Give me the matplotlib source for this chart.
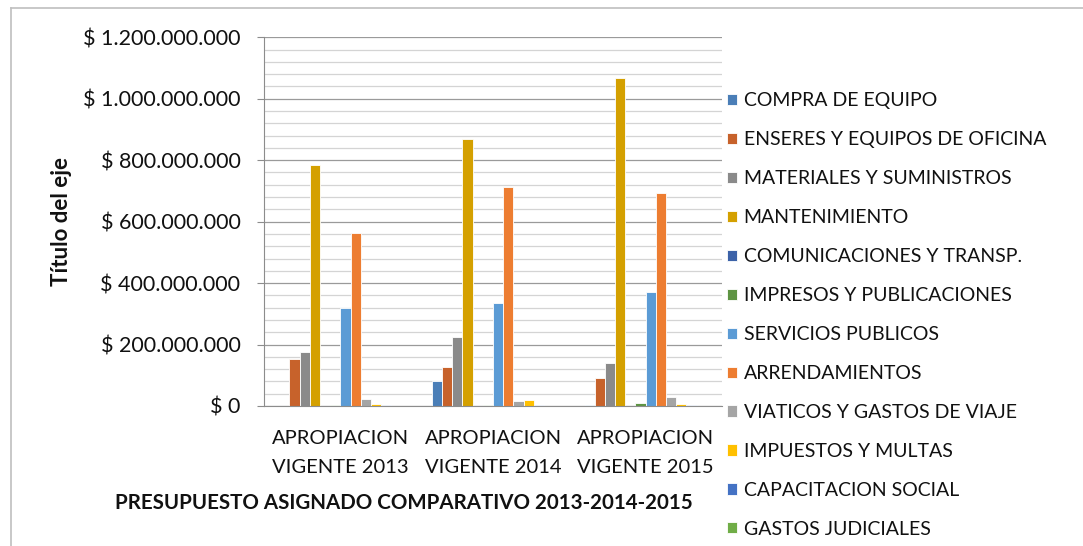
import numpy as np
import matplotlib
matplotlib.use("Agg")
import matplotlib.pyplot as plt
from matplotlib.lines import Line2D
from matplotlib.ticker import MultipleLocator, FuncFormatter

plt.rcParams['font.family'] = ['Lato', 'DejaVu Sans']

categories = ["APROPIACION\nVIGENTE 2013", "APROPIACION\nVIGENTE 2014", "APROPIACION\nVIGENTE 2015"]

series_names = [
    "COMPRA DE EQUIPO",
    "ENSERES Y EQUIPOS DE OFICINA",
    "MATERIALES Y SUMINISTROS",
    "MANTENIMIENTO",
    "COMUNICACIONES Y TRANSP.",
    "IMPRESOS Y PUBLICACIONES",
    "SERVICIOS PUBLICOS",
    "ARRENDAMIENTOS",
    "VIATICOS Y GASTOS DE VIAJE",
    "IMPUESTOS Y MULTAS",
    "CAPACITACION SOCIAL",
    "GASTOS JUDICIALES",
]

# values per series for 2013, 2014, 2015 (pesos)
compra = [0, 80e6, 3e6]
enseres = [153e6, 127e6, 92e6]
materiales = [175e6, 224e6, 139e6]
mantenimiento = [784e6, 870e6, 1067e6]
comunicaciones = [0, 0, 0]
impresos = [3e6, 3e6, 10e6]
servicios = [318e6, 335e6, 371e6]
arrendamientos = [562e6, 714e6, 694e6]
viaticos = [22e6, 16e6, 29e6]
impuestos = [6e6, 20e6, 7e6]
capacitacion = [4e6, 4e6, 4e6]
gastos_judiciales = [0, 0, 0]

series_values = [compra, enseres, materiales, mantenimiento, comunicaciones, impresos,
                 servicios, arrendamientos, viaticos, impuestos, capacitacion, gastos_judiciales]

colors = ['#4A7EB7', '#C7622B', '#8A8A8A', '#D4A000', '#3C62A8', '#5E9443',
          '#5B9BD5', '#ED7D31', '#A5A5A5', '#FFC000', '#4472C4', '#70AD47']

W, H = 1083, 546
fig = plt.figure(figsize=(W / 100, H / 100), dpi=100)
ax = fig.add_axes([264 / W, 1 - 406 / H, (722 - 264) / W, (406 - 37.3) / H])

x = np.arange(len(categories))
n = len(series_names)
bw = 0.8 / n
handles = []
for i, (name, vals, c) in enumerate(zip(series_names, series_values, colors)):
    b = ax.bar(x - 0.4 + bw * (i + 0.5), vals, width=bw, color=c, edgecolor='white',
               linewidth=0.6, label=name)
    handles.append(b)

ax.set_xlim(-0.5, 2.5)
ax.set_ylim(0, 1.2e9)
ax.yaxis.set_major_locator(MultipleLocator(200e6))
ax.yaxis.set_minor_locator(MultipleLocator(40e6))
ax.yaxis.set_major_formatter(FuncFormatter(lambda v, p: "$ " + f"{int(round(v)):,}".replace(",", ".")))
ax.set_axisbelow(True)
ax.grid(axis='y', which='major', color='#9A9A9A', linewidth=0.9)
ax.grid(axis='y', which='minor', color='#D4D4D4', linewidth=0.9)

ax.set_xticks(x)
ax.set_xticklabels(categories, fontsize=14.5, linespacing=1.85, color='#111111')
ax.tick_params(axis='x', length=0, pad=17)
ax.tick_params(axis='y', which='major', length=5, color='#8C8C8C', labelsize=15.5, pad=12,
               labelcolor='#111111')
ax.tick_params(axis='y', which='minor', length=0)

for s in ['top', 'right']:
    ax.spines[s].set_visible(False)
ax.spines['left'].set_color('#8C8C8C')
ax.spines['bottom'].set_color('#8C8C8C')

fig.text(62 / W, 1 - 222 / H, "Título del eje", rotation=90, ha='center', va='center',
         fontsize=16, fontweight='bold', color='#111111')
fig.text(404 / W, 1 - 503 / H, "PRESUPUESTO ASIGNADO COMPARATIVO 2013-2014-2015",
         ha='center', va='center', fontsize=14.8, fontweight='bold', color='#111111')

fig.legend(handles=handles, loc='center left', bbox_to_anchor=(727 / W, 1 - 315 / H),
           frameon=False, borderpad=0, borderaxespad=0, handlelength=0.5,
           handleheight=0.5, handletextpad=0.35, labelspacing=1.13, fontsize=14,
           labelcolor='#111111')

# chart area border
fig.add_artist(Line2D([11 / W, 11 / W], [0, 1 - 8 / H], transform=fig.transFigure,
                      color='#BFBFBF', linewidth=1.2))
fig.add_artist(Line2D([11 / W, 1], [1 - 8 / H, 1 - 8 / H], transform=fig.transFigure,
                      color='#BFBFBF', linewidth=1.2))

fig.savefig("out.png", dpi=100)
